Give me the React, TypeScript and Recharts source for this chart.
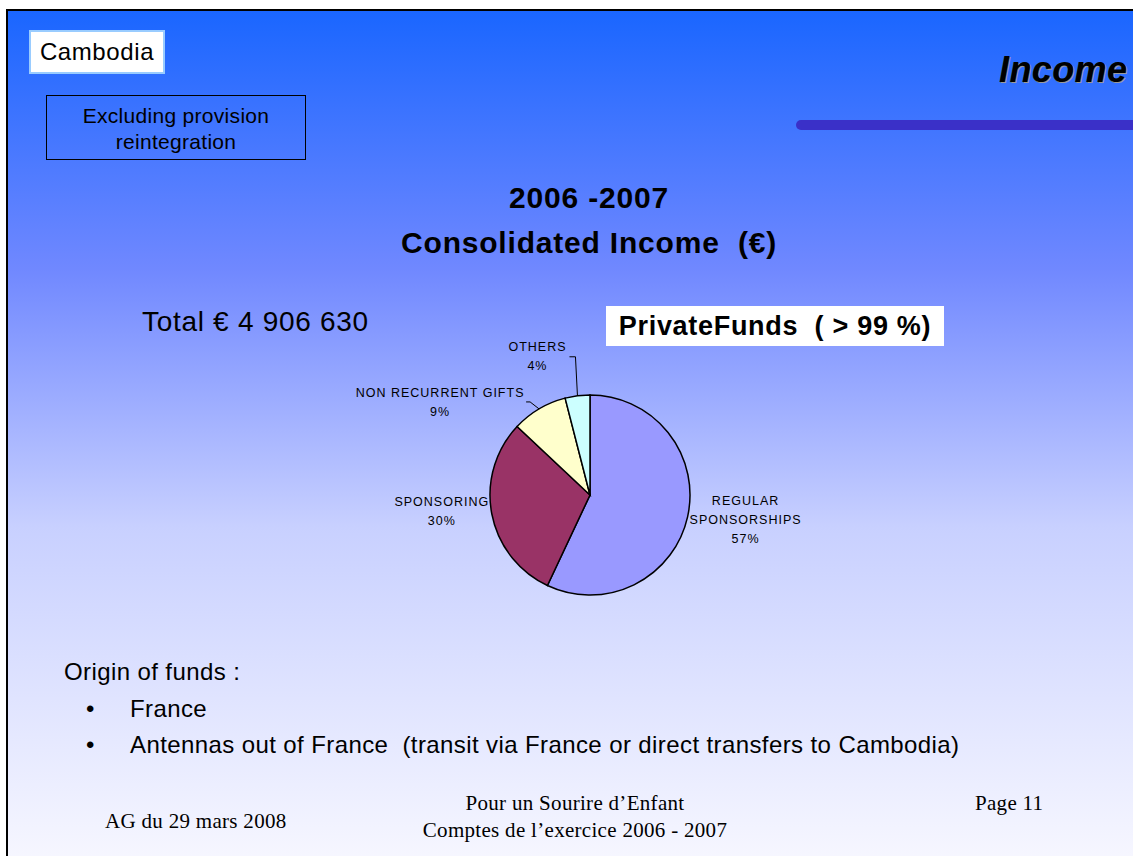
import { PieChart, Pie, Cell } from "recharts";

// income sources, 2006-2007
const categories = ["REGULAR SPONSORSHIPS", "SPONSORING", "NON RECURRENT GIFTS", "OTHERS"];
const shares = [57, 30, 9, 4];
const sliceColors = ["#9999ff", "#993366", "#ffffcc", "#ccffff"];

const pieData = categories.map((name, i) => ({ name, value: shares[i] }));

// label placement relative to the slice's outer arc point
const labelLayout = [
  { dx: 58, dy: -16, wrap: true, leader: null },
  { dx: -50, dy: -12, wrap: false, leader: null },
  { dx: -99, dy: -16, wrap: false, leader: [[-9, -7], [-13, -7]] },
  { dx: -40, dy: -49, wrap: false, leader: [[-2, -39], [-8, -39]] },
];

const RADIAN = Math.PI / 180;
const font = "'Liberation Sans', Arial, sans-serif";
const serif = "'Liberation Serif', 'Times New Roman', serif";

function SliceLabel(props: any) {
  const { cx, cy, midAngle, outerRadius, index, value } = props;
  const ax = cx + outerRadius * Math.cos(-midAngle * RADIAN);
  const ay = cy + outerRadius * Math.sin(-midAngle * RADIAN);
  const lay = labelLayout[index];
  const name = categories[index];
  const lines = lay.wrap ? name.split(" ") : [name];
  lines.push(value + "%");
  const x = ax + lay.dx;
  const y0 = ay + lay.dy;
  return (
    <g>
      {lay.leader && (
        <polyline
          points={[[0, 0], ...lay.leader].map((p) => `${ax + p[0]},${ay + p[1]}`).join(" ")}
          fill="none"
          stroke="#000"
          strokeWidth={1}
        />
      )}
      {lines.map((t, i) => (
        <text
          key={i}
          x={x}
          y={y0 + i * 19}
          textAnchor="middle"
          dominantBaseline="central"
          fontFamily={font}
          fontSize={12.5}
          letterSpacing={1}
          fill="#000"
        >
          {t}
        </text>
      ))}
    </g>
  );
}

export default function App() {
  return (
    <div
      style={{
        position: "absolute",
        left: 0,
        top: 0,
        width: 1133,
        height: 856,
        background: "#fff",
        overflow: "hidden",
        fontFamily: font,
      }}
    >
      {/* slide frame */}
      <div
        style={{
          position: "absolute",
          left: 6,
          top: 9,
          width: 1140,
          height: 860,
          borderLeft: "2px solid #000",
          borderTop: "2px solid #000",
          background:
            "linear-gradient(to bottom, #1a66ff 0%, #7088ff 30%, #c8d0ff 60%, #f8f8ff 100%)",
        }}
      />

      {/* header */}
      <div
        style={{
          position: "absolute",
          left: 29,
          top: 30,
          width: 132,
          height: 40,
          background: "#fff",
          border: "2px solid #99ccff",
          fontSize: 24,
          letterSpacing: 0.6,
          lineHeight: "40px",
          textAlign: "center",
        }}
      >
        Cambodia
      </div>
      <div
        style={{
          position: "absolute",
          left: 46,
          top: 95,
          width: 260,
          height: 65,
          border: "1px solid #000",
          fontSize: 21,
          letterSpacing: 0.3,
          lineHeight: "26px",
          textAlign: "center",
          paddingTop: 7,
          boxSizing: "border-box",
        }}
      >
        Excluding provision
        <br />
        reintegration
      </div>
      <div
        style={{
          position: "absolute",
          left: 999,
          top: 49,
          fontSize: 36,
          letterSpacing: 0.4,
          fontWeight: "bold",
          fontStyle: "italic",
          color: "#000",
          textShadow: "1px 1px 0 #999",
          whiteSpace: "nowrap",
        }}
      >
        Income
      </div>
      <div
        style={{
          position: "absolute",
          left: 796,
          top: 120,
          width: 360,
          height: 10,
          borderRadius: 5,
          background: "#3a30c8",
        }}
      />

      {/* titles */}
      <div
        style={{
          position: "absolute",
          left: 0,
          width: 1178,
          top: 175,
          textAlign: "center",
          fontSize: 30,
          letterSpacing: 0.8,
          fontWeight: "bold",
          lineHeight: "45px",
        }}
      >
        2006 -2007
        <br />
        Consolidated Income&nbsp; (€)
      </div>
      <div
        style={{
          position: "absolute",
          left: 142,
          top: 306,
          fontSize: 28,
          letterSpacing: 0.7,
          whiteSpace: "nowrap",
        }}
      >
        Total € 4 906 630
      </div>
      <div
        style={{
          position: "absolute",
          left: 606,
          top: 306,
          width: 338,
          height: 40,
          background: "#fff",
          fontSize: 27,
          letterSpacing: 0.7,
          fontWeight: "bold",
          lineHeight: "40px",
          textAlign: "center",
          whiteSpace: "nowrap",
        }}
      >
        PrivateFunds&nbsp; ( &gt; 99 %)
      </div>

      {/* pie */}
      <div style={{ position: "absolute", left: 290, top: 330 }}>
        <PieChart width={600} height={330} margin={{ top: 0, right: 0, bottom: 0, left: 0 }}>
          <Pie
            data={pieData}
            dataKey="value"
            nameKey="name"
            cx={300}
            cy={165}
            outerRadius={100}
            startAngle={90}
            endAngle={-270}
            stroke="#000"
            strokeWidth={1.5}
            label={SliceLabel}
            labelLine={false}
            isAnimationActive={false}
          >
            {pieData.map((d, i) => (
              <Cell key={d.name} fill={sliceColors[i]} />
            ))}
          </Pie>
        </PieChart>
      </div>

      {/* notes */}
      <div style={{ position: "absolute", left: 64, top: 658, fontSize: 24, letterSpacing: 0.4, whiteSpace: "nowrap" }}>
        Origin of funds :
      </div>
      <div style={{ position: "absolute", left: 86, top: 695, fontSize: 24, whiteSpace: "nowrap" }}>
        •
      </div>
      <div style={{ position: "absolute", left: 130, top: 695, fontSize: 24, letterSpacing: 0.4, whiteSpace: "nowrap" }}>
        France
      </div>
      <div style={{ position: "absolute", left: 86, top: 731, fontSize: 24, whiteSpace: "nowrap" }}>
        •
      </div>
      <div style={{ position: "absolute", left: 130, top: 731, fontSize: 24, letterSpacing: 0.4, whiteSpace: "nowrap" }}>
        Antennas out of France&nbsp; (transit via France or direct transfers to Cambodia)
      </div>

      {/* footer */}
      <div
        style={{
          position: "absolute",
          left: 105,
          top: 809,
          fontFamily: serif,
          fontSize: 21,
          letterSpacing: 0.3,
          whiteSpace: "nowrap",
        }}
      >
        AG du 29 mars 2008
      </div>
      <div
        style={{
          position: "absolute",
          left: 375,
          width: 400,
          top: 790,
          textAlign: "center",
          fontFamily: serif,
          fontSize: 21,
          letterSpacing: 0.3,
          lineHeight: "27px",
        }}
      >
        Pour un Sourire d’Enfant
        <br />
        Comptes de l’exercice 2006 - 2007
      </div>
      <div
        style={{
          position: "absolute",
          left: 975,
          top: 791,
          fontFamily: serif,
          fontSize: 21,
          letterSpacing: 0.3,
          whiteSpace: "nowrap",
        }}
      >
        Page 11
      </div>
    </div>
  );
}
